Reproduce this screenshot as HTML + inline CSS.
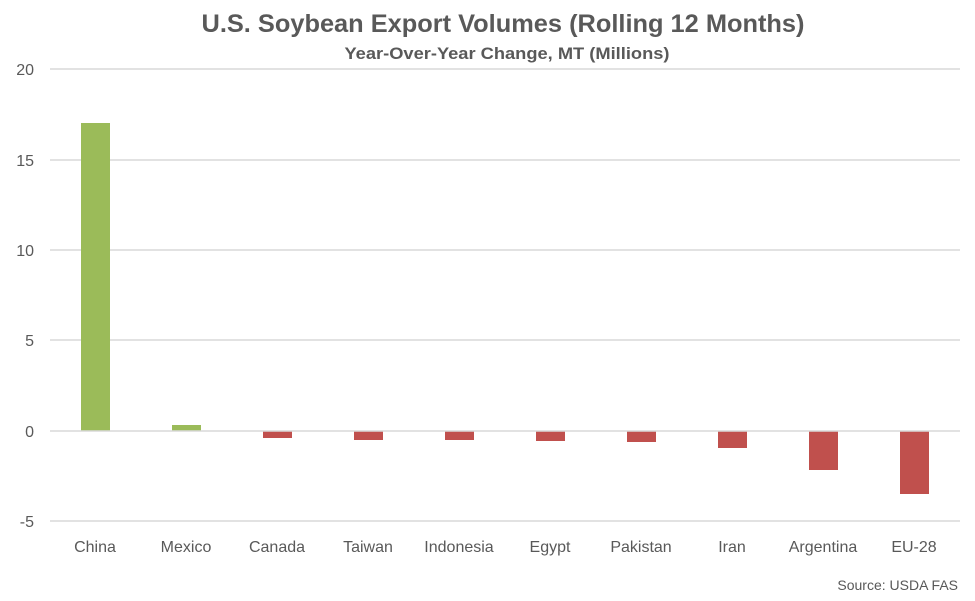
<!DOCTYPE html>
<html><head><meta charset="utf-8"><style>
body{margin:0;background:#fff;}
svg{display:block;font-family:"Liberation Sans",Calibri,sans-serif;}
</style></head><body>
<svg width="975" height="601" viewBox="0 0 975 601">
<rect width="975" height="601" fill="#fff"/>
<text x="503" y="32" text-anchor="middle" font-size="25" font-weight="bold" fill="#595959" textLength="603" lengthAdjust="spacingAndGlyphs">U.S. Soybean Export Volumes (Rolling 12 Months)</text>
<text x="507" y="59" text-anchor="middle" font-size="17" font-weight="bold" fill="#595959" textLength="325" lengthAdjust="spacingAndGlyphs">Year-Over-Year Change, MT (Millions)</text>
<g stroke="#d9d9d9" stroke-width="1.5">
<line x1="50" x2="960" y1="69" y2="69"/>
<line x1="50" x2="960" y1="160" y2="160"/>
<line x1="50" x2="960" y1="250" y2="250"/>
<line x1="50" x2="960" y1="340" y2="340"/>
<line x1="50" x2="960" y1="521" y2="521"/>
</g>
<g font-size="16" fill="#595959" text-anchor="end">
<text x="34" y="75">20</text>
<text x="34" y="166">15</text>
<text x="34" y="256">10</text>
<text x="34" y="346">5</text>
<text x="34" y="437">0</text>
<text x="34" y="527">-5</text>
</g>
<g fill="#9bbb59">
<rect x="81" y="123" width="29" height="308"/>
<rect x="172" y="425" width="29" height="6"/>
</g>
<g fill="#c0504d">
<rect x="263" y="431" width="29" height="7"/>
<rect x="354" y="431" width="29" height="9"/>
<rect x="445" y="431" width="29" height="9"/>
<rect x="536" y="431" width="29" height="10"/>
<rect x="627" y="431" width="29" height="11"/>
<rect x="718" y="431" width="29" height="17"/>
<rect x="809" y="431" width="29" height="39"/>
<rect x="900" y="431" width="29" height="63"/>
</g>
<line x1="50" x2="960" y1="431" y2="431" stroke="#d9d9d9" stroke-width="1.5"/>
<g font-size="16" fill="#595959" text-anchor="middle">
<text x="95" y="552">China</text>
<text x="186" y="552">Mexico</text>
<text x="277" y="552">Canada</text>
<text x="368" y="552">Taiwan</text>
<text x="459" y="552">Indonesia</text>
<text x="550" y="552">Egypt</text>
<text x="641" y="552">Pakistan</text>
<text x="732" y="552">Iran</text>
<text x="823" y="552">Argentina</text>
<text x="914" y="552">EU-28</text>
</g>
<text x="958" y="590" text-anchor="end" font-size="14" fill="#595959">Source: USDA FAS</text>
</svg>
</body></html>
